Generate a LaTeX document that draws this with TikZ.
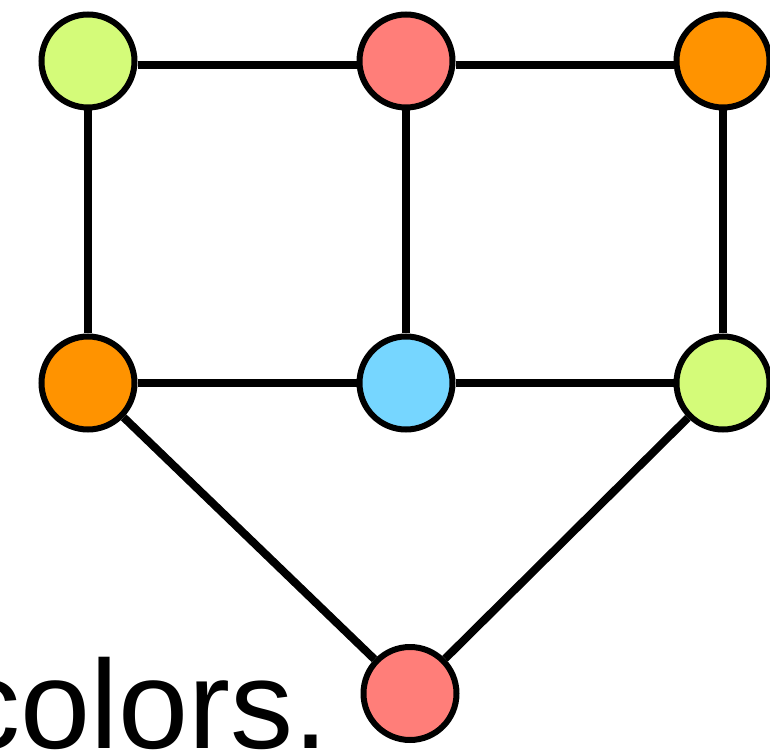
\documentclass[tikz,border=0pt]{standalone}
\usepackage{fontspec}
\setmainfont{Liberation Sans}

% colori dei vertici
\definecolor{verde}{HTML}{D4FB79}
\definecolor{salmone}{HTML}{FF7E79}
\definecolor{arancio}{HTML}{FF9300}
\definecolor{celeste}{HTML}{76D6FF}

\begin{document}
\begin{tikzpicture}[x=1pt,y=1pt,
    vertice/.style={circle,draw=black,line width=6pt,minimum size=93pt,inner sep=0pt},
    lato/.style={line width=8pt}]
    \useasboundingbox (0,0) rectangle (770,753);

    % vertici
    \node[vertice,fill=verde]   (a) at (88,692)  {};
    \node[vertice,fill=salmone] (b) at (406,692) {};
    \node[vertice,fill=arancio] (c) at (723,692) {};
    \node[vertice,fill=arancio] (d) at (88,370)  {};
    \node[vertice,fill=celeste] (e) at (406,370) {};
    \node[vertice,fill=verde]   (f) at (723,370) {};
    \node[vertice,fill=salmone] (g) at (410,59.5) {};

    % lati
    \draw[lato] ([yshift=-4pt]a.east) -- ([yshift=-4pt]b.west);
    \draw[lato] ([yshift=-4pt]b.east) -- ([yshift=-4pt]c.west);
    \draw[lato] (d) -- (e) -- (f);
    \draw[lato] (a) -- (d);
    \draw[lato] (b) -- (e);
    \draw[lato] (c) -- (f);
    \draw[lato] (d) -- (g) -- (f);

    % testo
    \node[anchor=base east,inner sep=0pt,font=\fontsize{126}{126}\selectfont] (t) at (329,5) {colors.};
\end{tikzpicture}
\end{document}
